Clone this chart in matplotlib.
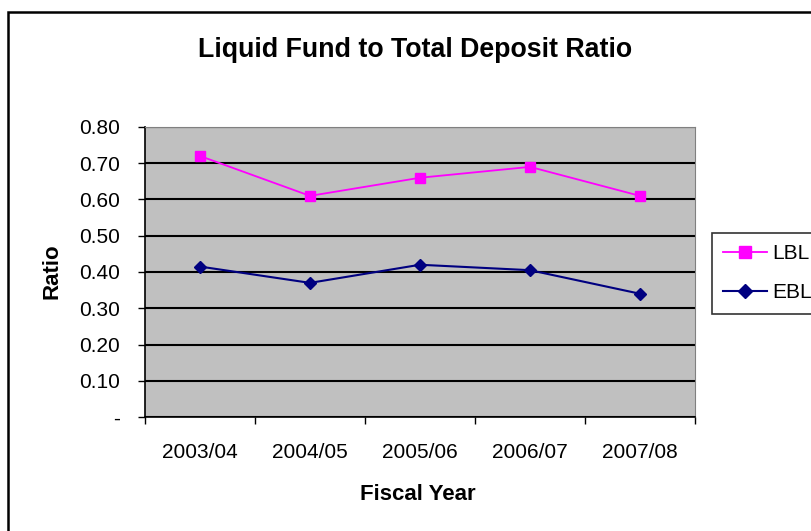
import matplotlib.pyplot as plt
from matplotlib.patches import Rectangle
from matplotlib.ticker import FixedLocator, NullFormatter

years = ["2003/04", "2004/05", "2005/06", "2006/07", "2007/08"]
lbl = [0.72, 0.61, 0.66, 0.69, 0.61]
ebl = [0.415, 0.37, 0.42, 0.405, 0.34]
yticks = [0.0, 0.1, 0.2, 0.3, 0.4, 0.5, 0.6, 0.7, 0.8]
ytick_labels = ["-", "0.10", "0.20", "0.30", "0.40", "0.50", "0.60", "0.70", "0.80"]

plt.rcParams["font.family"] = ["Liberation Sans", "DejaVu Sans"]

W, H = 812, 531
fig = plt.figure(figsize=(W / 100, H / 100), dpi=100)

# outer chart frame (runs off the right and bottom edge)
fig.patches.append(Rectangle((8 / W, -0.05), 1.0, 1 - 12 / H + 0.05,
                             transform=fig.transFigure, fill=False,
                             edgecolor="black", linewidth=1.8))

ax = fig.add_axes([145 / W, 1 - 417 / H, (695 - 145) / W, (417 - 127) / H])
ax.set_facecolor("#C0C0C0")

x = [i + 0.5 for i in range(len(years))]
ax.plot(x, lbl, color="#FF00FF", marker="s", markersize=7, linewidth=1.3, label="LBL")
ax.plot(x, ebl, color="#000080", marker="D", markersize=6, linewidth=1.5, label="EBL")

ax.set_xlim(0, len(years))
ax.set_ylim(0, 0.8)
ax.set_yticks(yticks)
ax.set_yticklabels(ytick_labels, fontsize=15)
ax.yaxis.grid(True, color="black", linewidth=1.5)
ax.set_axisbelow(True)

ax.xaxis.set_major_locator(FixedLocator(range(len(years) + 1)))
ax.xaxis.set_major_formatter(NullFormatter())
ax.xaxis.set_minor_locator(FixedLocator(x))
ax.set_xticklabels(years, minor=True, fontsize=15)
ax.tick_params(axis="x", which="minor", length=0, pad=19)
ax.tick_params(axis="x", which="major", length=5, width=1, direction="out")
ax.tick_params(axis="y", length=5, width=1, direction="out", pad=13)

for s in ["top", "right"]:
    ax.spines[s].set_color("#808080")
for s in ["left", "bottom"]:
    ax.spines[s].set_color("black")
    ax.spines[s].set_linewidth(1.2)

fig.text(415 / W, 1 - 50 / H, "Liquid Fund to Total Deposit Ratio",
         ha="center", va="center", fontsize=19.3, fontweight="bold")
fig.text(52 / W, 1 - 271 / H, "Ratio", ha="center", va="center",
         rotation=90, fontsize=16, fontweight="bold")
fig.text(418 / W, 1 - 495 / H, "Fiscal Year", ha="center", va="center",
         fontsize=16, fontweight="bold")

leg = fig.legend(loc="upper left", bbox_to_anchor=(712 / W, 1 - 233 / H),
                 fontsize=15, frameon=True, fancybox=False, edgecolor="black",
                 handlelength=2.1, handletextpad=0.25, borderpad=0.55,
                 borderaxespad=0, labelspacing=0.95, markerscale=1.2)
leg.get_frame().set_linewidth(1.2)

fig.savefig("out.png", dpi=100)
